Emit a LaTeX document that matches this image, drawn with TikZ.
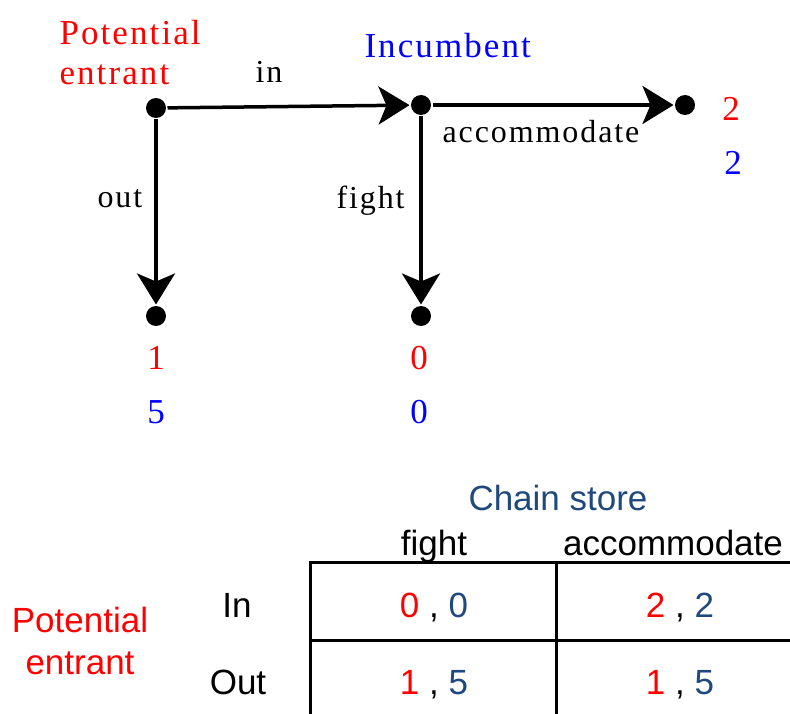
\documentclass[tikz,border=0pt]{standalone}
\usepackage{fontspec}
\setmainfont{Liberation Sans}
\newfontfamily\treefont{Liberation Serif}[LetterSpace=6]
\usepackage{tikz}
\usetikzlibrary{arrows.meta,positioning}
\definecolor{chainblue}{RGB}{31,73,125}

\begin{document}
\begin{tikzpicture}[x=1pt,y=-1pt,->,>={Stealth[length=31pt,width=38pt,inset=8pt]},line width=3pt,
  dot/.style={fill=black, circle, inner sep=0pt, minimum size=20pt},
  tree/.style={font=\treefont\fontsize{35}{40}\selectfont, inner sep=0pt},
  move/.style={font=\treefont\fontsize{32}{38}\selectfont, inner sep=0pt},
  tab/.style={font=\fontsize{35}{42}\selectfont, inner sep=0pt}]
  \useasboundingbox (0,0) rectangle (790,714);
  % game tree
  \node (A) [dot] at (156,108) {};
  \node (B) [dot] at (421,105) {};
  \node (C) [dot] at (685,105) {};
  \node (D) [dot] at (156,316) {};
  \node (E) [dot] at (421,316) {};
  \path [line width=3.5pt]
        (A) edge (B)
            edge (D)
        (B) edge (C)
            edge (E);
  \node (entrant)   [tree, text=red, align=left, anchor=north west] at (58,19) {Potential\\entrant};
  \node (incumbent) [tree, text=blue, anchor=base west] at (363,58) {Incumbent};
  \node (in)     [move, anchor=base] at (269,83)  {in};
  \node (out)    [move, anchor=base west] at (96,208)  {out};
  \node (fight)  [move, anchor=base west] at (335,209) {fight};
  \node (accom)  [move, anchor=base west] at (441,143) {accommodate};
  \node (C1) [tree, text=red,  anchor=base] at (731,121) {2};
  \node (C2) [tree, text=blue, anchor=base] at (733,175) {2};
  \node (D1) [tree, text=red,  anchor=base] at (156,369) {1};
  \node (D2) [tree, text=blue, anchor=base] at (156,423) {5};
  \node (E1) [tree, text=red,  anchor=base] at (419,369) {0};
  \node (E2) [tree, text=blue, anchor=base] at (419,423) {0};
  % normal form
  \node (store)  [tab, text=chainblue, anchor=base] at (558,510) {Chain store};
  \node (fightT) [tab, anchor=base] at (434,555) {fight};
  \node (accomT) [tab, anchor=base] at (673,555) {accommodate};
  \node (inT)    [tab, anchor=base] at (237,617) {In};
  \node (outT)   [tab, anchor=base] at (238,694) {Out};
  \node (player) [tab, text=red, align=center] at (80,641) {Potential\\entrant};
  \node (c11) [tab, anchor=base] at (434,617) {\textcolor{red}{0} , \textcolor{chainblue}{0}};
  \node (c12) [tab, anchor=base] at (680,617) {\textcolor{red}{2} , \textcolor{chainblue}{2}};
  \node (c21) [tab, anchor=base] at (434,694) {\textcolor{red}{1} , \textcolor{chainblue}{5}};
  \node (c22) [tab, anchor=base] at (680,694) {\textcolor{red}{1} , \textcolor{chainblue}{5}};
  \draw [-] (790,562) -- (310,562) -- (310,714)
            (310,640) -- (790,640)
            (556,562) -- (556,714);
\end{tikzpicture}
\end{document}
